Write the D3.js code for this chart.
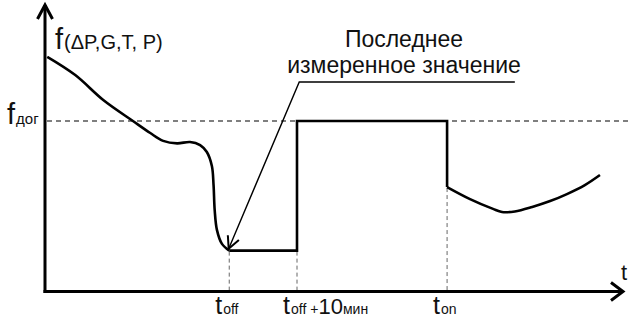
<!DOCTYPE html>
<html>
<head>
<meta charset="utf-8">
<script src="https://cdn.jsdelivr.net/npm/d3@7"></script>
<style>
  body { margin: 0; background: #fff; }
  svg { display: block; font-family: "Liberation Sans", Arial, sans-serif; }
</style>
</head>
<body>
<div id="chart-area"></div>
<script>
// Values (time in arbitrary units, f in arbitrary units).
var curveBefore = [
  [0.4, 83.8], [5.4, 77.3], [10.4, 68.4], [15.7, 60.9], [18.8, 56.6],
  [21.1, 53.8], [23.6, 52.9], [25.9, 53.4], [27.7, 52.3], [28.9, 49.8],
  [29.8, 44.8], [30.1, 38.0], [30.3, 29.1], [30.7, 22.0], [31.6, 17.0],
  [32.9, 14.6]
];
var tOff = 32.9, tOff10 = 45.0, tOn = 71.8;
var fLast = 14.6, fDog = 60.9;
var curveAfter = [
  [71.8, 37.3], [75.9, 33.0], [80.0, 29.5], [81.6, 28.4], [83.9, 28.6],
  [87.0, 30.2], [90.2, 32.3], [93.2, 34.8], [96.4, 38.0], [99.1, 41.6]
];
// leader line of the note: end of shelf -> corner -> arrow tip
var leader = [[83.9, 74.8], [45.4, 74.8], [32.8, 15.3]];
var noteLines = ["Последнее", "измеренное значение"];
var tickLabels = [
  {t: tOff,   sub: "off", extra: ""},
  {t: tOff10, sub: "off", extra: "+10"},
  {t: tOn,    sub: "on",  extra: ""}
];

var width = 630, height = 321;

var svg = d3.select("#chart-area")
    .append("svg")
    .attr("width", width)
    .attr("height", height);

var x = d3.scaleLinear().domain([0, 100]).range([45, 605]);
var y = d3.scaleLinear().domain([0, 100]).range([291.5, 11.5]);

// Reference level f_dog (dashed)
svg.append("line")
    .attr("x1", x(0) + 2).attr("x2", width)
    .attr("y1", y(fDog)).attr("y2", y(fDog))
    .attr("stroke", "#555").attr("stroke-width", 1.3)
    .attr("stroke-dasharray", "5,4");

// Vertical dashed drop lines
var drops = [[tOff, fLast], [tOff10, fLast], [tOn, curveAfter[0][1]]];
svg.selectAll(".drop")
    .data(drops)
    .enter().append("line")
    .attr("class", "drop")
    .attr("x1", d => x(d[0])).attr("x2", d => x(d[0]))
    .attr("y1", d => y(d[1]) + 1).attr("y2", y(0))
    .attr("stroke", "#666").attr("stroke-width", 1)
    .attr("stroke-dasharray", "4,3");

// Axes with arrows
var axisG = svg.append("g")
    .attr("stroke", "#000").attr("stroke-width", 3)
    .attr("fill", "none").attr("stroke-linecap", "butt");
axisG.append("path").attr("d", "M" + x(0) + "," + (y(0) + 1.5) + "V5");
axisG.append("path").attr("d", "M" + (x(0) - 7.5) + ",19L" + x(0) + ",5L" + (x(0) + 7.5) + ",19")
    .attr("stroke-linejoin", "miter");
axisG.append("path").attr("d", "M" + (x(0) - 1.5) + "," + y(0) + "H623");
axisG.append("path").attr("d", "M611," + (y(0) - 9) + "L623," + y(0) + "L611," + (y(0) + 9))
    .attr("stroke-linejoin", "miter");

// Data curve
var smooth = d3.line().x(d => x(d[0])).y(d => y(d[1])).curve(d3.curveCatmullRom.alpha(0.5));
var straight = d3.line().x(d => x(d[0])).y(d => y(d[1]));
var stepPts = [[tOff, fLast], [tOff10, fLast], [tOff10, fDog], [tOn, fDog], [tOn, curveAfter[0][1]]];

var curveG = svg.append("g")
    .attr("fill", "none").attr("stroke", "#000")
    .attr("stroke-width", 2.6).attr("stroke-linejoin", "round");
curveG.append("path").attr("d", smooth(curveBefore));
curveG.append("path").attr("d", straight(stepPts)).attr("stroke-linejoin", "miter");
curveG.append("path").attr("d", smooth(curveAfter));

// Note leader with open arrowhead
var defs = svg.append("defs");
defs.append("marker")
    .attr("id", "open-arrow")
    .attr("markerUnits", "userSpaceOnUse")
    .attr("viewBox", "-14 -8 16 16")
    .attr("markerWidth", 16).attr("markerHeight", 16)
    .attr("refX", 0).attr("refY", 0)
    .attr("orient", "auto")
    .append("path")
    .attr("d", "M-12,-6L0,0L-12,6")
    .attr("fill", "none").attr("stroke", "#000").attr("stroke-width", 2);

svg.append("path")
    .attr("d", straight(leader))
    .attr("fill", "none").attr("stroke", "#000").attr("stroke-width", 1.4)
    .attr("marker-end", "url(#open-arrow)");

svg.selectAll(".note")
    .data(noteLines)
    .enter().append("text")
    .attr("class", "note")
    .attr("x", 404)
    .attr("y", (d, i) => 47 + i * 26)
    .attr("text-anchor", "middle")
    .attr("font-size", 23)
    .attr("fill", "#111")
    .text(d => d);

// Y axis label f(ΔP,G,T, P)
var yl = svg.append("text").attr("x", 55).attr("y", 49).attr("fill", "#111");
yl.append("tspan").attr("font-size", 29).text("f");
yl.append("tspan").attr("font-size", 20).attr("dx", 1).text("(ΔP,G,T, P)");

// f_dog label
var fl = svg.append("text").attr("x", 7).attr("y", y(fDog) + 3).attr("fill", "#111");
fl.append("tspan").attr("font-size", 29).text("f");
fl.append("tspan").attr("font-size", 15).attr("dx", 1).text("дог");

// Time tick labels
tickLabels.forEach(function(d) {
  var tx = svg.append("text")
      .attr("x", x(d.t) - 14).attr("y", 314).attr("fill", "#111");
  tx.append("tspan").attr("font-size", 25).text("t");
  tx.append("tspan").attr("font-size", 14).attr("dx", 1).text(d.sub);
  if (d.extra) {
    tx.append("tspan").attr("font-size", 14).attr("dx", 4).text("+");
    tx.append("tspan").attr("font-size", 22).text("10");
    tx.append("tspan").attr("font-size", 14).text("мин");
  }
});

// Axis label t
svg.append("text").attr("x", 621).attr("y", 280)
    .attr("font-size", 22).attr("fill", "#111").text("t");
</script>
</body>
</html>
